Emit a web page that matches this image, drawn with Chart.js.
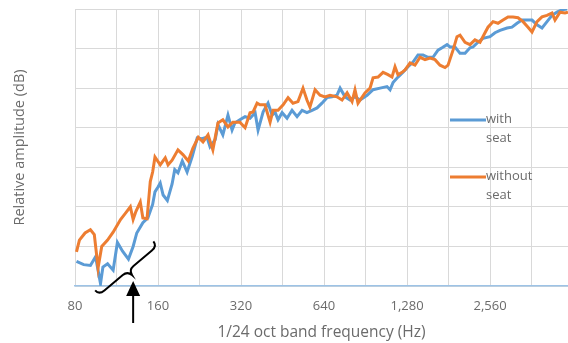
<!DOCTYPE html>
<html>
<head>
<meta charset="utf-8">
<script src="https://cdn.jsdelivr.net/npm/chart.js@4.4.1/dist/chart.umd.min.js"></script>
<style>
html, body { margin: 0; padding: 0; background: #fff; overflow: hidden; }
#wrap { width: 568px; height: 343px; }
</style>
</head>
<body>
<div id="wrap"><canvas id="chart"></canvas></div>
<script>
// frequency (Hz) / relative amplitude (dB)
const freqWith = [81, 86, 91, 95, 99, 101, 105, 110, 114, 119, 125, 130, 134, 141, 147, 153, 156, 160, 163, 167,
    173, 180, 184, 189, 196, 204, 213, 222, 231, 241, 247, 258, 264, 275, 287, 297, 304, 317, 331, 345,
    360, 369, 385, 401, 415, 425, 436, 451, 470, 490, 511, 533, 555, 579, 604, 629, 656, 684, 713, 732,
    763, 795, 829, 865, 917, 964, 1022, 1083, 1111, 1139, 1187, 1238, 1291, 1346, 1403, 1463, 1525, 1590, 1658, 1715,
    1788, 1833, 1911, 1993, 2078, 2166, 2221, 2316, 2414, 2560, 2669, 2783, 2951, 3076, 3208, 3344, 3487, 3636, 3791, 3952,
    4121, 4296, 4479, 4670, 4869];
const ampWith = [-31.9, -32.3, -32.4, -31.3, -34.7, -32.6, -32.2, -33.0, -29.5, -30.6, -31.6, -30.0, -28.3, -27.0, -26.4, -24.7, -23.1, -22.5, -22.0, -23.5,
    -24.2, -22.1, -20.3, -20.7, -19.2, -20.6, -18.6, -16.3, -16.4, -16.2, -17.4, -16.5, -14.6, -15.9, -13.4, -15.3, -14.4, -14.0, -13.6, -13.8,
    -13.1, -15.3, -13.0, -11.9, -13.4, -13.0, -14.0, -13.1, -13.8, -12.8, -13.6, -12.8, -13.1, -12.8, -12.5, -11.9, -11.2, -11.1, -10.9, -10.0,
    -11.1, -11.5, -11.1, -11.5, -10.9, -10.2, -10.0, -9.8, -10.2, -9.3, -8.6, -8.0, -7.3, -6.7, -5.8, -5.8, -6.1, -6.1, -5.2, -4.9,
    -4.5, -4.8, -4.8, -5.6, -5.6, -4.9, -4.8, -4.2, -3.7, -3.5, -3.0, -2.7, -2.4, -2.3, -1.8, -1.4, -1.4, -1.4, -2.0, -2.4,
    -1.6, -0.8, -0.4, -0.1, 0.0];

const freqWithout = [81, 83, 87, 91, 94, 97, 100, 105, 110, 117, 122, 127, 130, 133, 138, 141, 146, 150, 153, 156,
    163, 170, 174, 180, 189, 197, 206, 214, 224, 233, 243, 253, 264, 275, 287, 299, 317, 331, 345, 354,
    366, 375, 391, 408, 418, 436, 455, 474, 494, 515, 537, 555, 569, 594, 619, 645, 673, 713, 744, 776,
    809, 829, 850, 901, 940, 964, 1005, 1048, 1092, 1129, 1158, 1187, 1228, 1259, 1313, 1368, 1427, 1488, 1551, 1617,
    1686, 1758, 1803, 1880, 1943, 1993, 2078, 2166, 2258, 2355, 2455, 2517, 2625, 2737, 2854, 2975, 3102, 3235, 3373, 3516,
    3636, 3791, 3952, 4121, 4296, 4405, 4593, 4789, 4910];
const ampWithout = [-30.7, -29.2, -28.3, -27.9, -28.5, -32.7, -30.0, -29.2, -28.2, -26.6, -25.8, -25.0, -26.6, -25.6, -24.4, -26.4, -26.5, -21.8, -20.6, -18.7,
    -19.7, -18.8, -19.7, -19.1, -17.8, -18.4, -19.2, -17.6, -16.2, -16.8, -15.9, -17.8, -14.4, -14.0, -14.9, -14.3, -14.3, -15.0, -13.1, -13.0,
    -11.9, -12.1, -12.1, -14.3, -12.8, -12.8, -12.1, -11.2, -11.9, -11.7, -10.0, -11.5, -12.4, -10.2, -10.9, -11.1, -10.9, -11.1, -11.5, -10.6,
    -11.7, -10.2, -11.9, -10.6, -10.0, -8.7, -8.6, -8.0, -8.3, -8.6, -7.3, -8.3, -8.0, -7.7, -6.8, -7.1, -6.1, -6.4, -6.2, -6.4,
    -7.1, -7.4, -7.1, -5.2, -3.5, -3.3, -4.2, -4.5, -3.9, -4.2, -3.0, -2.3, -1.6, -1.8, -1.4, -1.0, -1.0, -1.1, -1.6, -2.3,
    -2.9, -1.6, -1.0, -0.8, -0.5, -1.4, -0.4, -0.5, -0.4];

// x gridlines every half octave, labels every octave
const gridFreqs = [80, 113, 160, 226, 320, 453, 640, 905, 1280, 1810, 2560, 3620];
const labelFreqs = [80, 160, 320, 640, 1280, 2560];
const seriesNames = [['with', 'seat'], ['without', 'seat']];
const arrowFreq = 130;

const BLUE = '#5B9BD5';
const ORANGE = '#ED7D31';
const TEXT = '#6b6b6b';
const FONT = '"Open Sans", sans-serif';

function toPoints(xs, ys) {
    return xs.map((f, i) => ({ x: f, y: ys[i] }));
}

// legend with wrapped labels, like the excel one
const sideLegend = {
    id: 'sideLegend',
    afterDraw(chart) {
        const ctx = chart.ctx;
        const items = [[BLUE, 120], [ORANGE, 177]];
        ctx.save();
        ctx.font = '13px ' + FONT;
        ctx.fillStyle = TEXT;
        ctx.textBaseline = 'middle';
        items.forEach((it, i) => {
            ctx.strokeStyle = it[0];
            ctx.lineWidth = 3;
            ctx.beginPath();
            ctx.moveTo(450, it[1]);
            ctx.lineTo(486, it[1]);
            ctx.stroke();
            seriesNames[i].forEach((t, j) => ctx.fillText(t, 486, it[1] - 1 + j * 19));
        });
        ctx.restore();
    }
};

// hand drawn brace + arrow under the low band
const marker = {
    id: 'marker',
    afterDraw(chart) {
        const ctx = chart.ctx;
        const ax = chart.scales.x.getPixelForValue(arrowFreq);
        const bottom = chart.chartArea.bottom;
        ctx.save();
        ctx.strokeStyle = '#000';
        ctx.fillStyle = '#000';
        ctx.lineWidth = 2;

        ctx.save();
        ctx.translate(ax - 5, bottom - 15.5);
        ctx.rotate(-40 * Math.PI / 180);
        ctx.beginPath();
        ctx.moveTo(-38, -6);
        ctx.quadraticCurveTo(-38, 0, -31, 0);
        ctx.lineTo(-7, 0);
        ctx.quadraticCurveTo(-1, 0, 0, 6);
        ctx.quadraticCurveTo(1, 0, 7, 0);
        ctx.lineTo(31, 0);
        ctx.quadraticCurveTo(38, 0, 38, -6);
        ctx.stroke();
        ctx.restore();

        ctx.beginPath();
        ctx.moveTo(ax, bottom + 37);
        ctx.lineTo(ax, bottom + 8);
        ctx.stroke();
        ctx.beginPath();
        ctx.moveTo(ax, bottom - 5);
        ctx.lineTo(ax - 7, bottom + 10);
        ctx.lineTo(ax + 7, bottom + 10);
        ctx.closePath();
        ctx.fill();
        ctx.restore();
    }
};

const ctx = document.getElementById('chart').getContext('2d');
const chart = new Chart(ctx, {
    type: 'line',
    data: {
        datasets: [{
            label: 'with seat',
            data: toPoints(freqWith, ampWith),
            borderColor: BLUE,
            borderWidth: 3,
            pointRadius: 0,
            order: 1
        }, {
            label: 'without seat',
            data: toPoints(freqWithout, ampWithout),
            borderColor: ORANGE,
            borderWidth: 3,
            pointRadius: 0,
            order: 0
        }]
    },
    options: {
        responsive: true,
        maintainAspectRatio: false,
        animation: false,
        layout: { padding: { top: 9, right: 0, bottom: 0, left: 0 } },
        plugins: {
            legend: { display: false },
            tooltip: { enabled: false }
        },
        scales: {
            x: {
                type: 'logarithmic',
                min: 80,
                max: 4910,
                afterBuildTicks(scale) {
                    scale.ticks = gridFreqs.map(v => ({ value: v }));
                },
                afterFit(scale) { scale.height = 57; },
                ticks: {
                    autoSkip: false,
                    maxRotation: 0,
                    padding: 12,
                    color: TEXT,
                    font: { family: FONT, size: 13 },
                    callback: (v) => labelFreqs.includes(v) ? v.toLocaleString('en-US') : ''
                },
                grid: { color: '#d9d9d9', lineWidth: 1, drawTicks: false },
                border: { color: '#9dc3e6', width: 1.5 },
                title: {
                    display: true,
                    text: '1/24 oct band frequency (Hz)',
                    color: TEXT,
                    font: { family: FONT, size: 15.5 },
                    padding: { top: 0, bottom: 1 }
                }
            },
            y: {
                min: -35,
                max: 0,
                ticks: { stepSize: 5, display: false },
                grid: { color: '#d9d9d9', lineWidth: 1, drawTicks: false },
                border: { display: false },
                afterFit(scale) { scale.width = 75; },
                title: {
                    display: true,
                    text: 'Relative amplitude (dB)',
                    color: TEXT,
                    font: { family: FONT, size: 14.5 },
                    padding: { top: 11, bottom: 0 }
                }
            }
        }
    },
    plugins: [sideLegend, marker]
});
</script>
</body>
</html>
